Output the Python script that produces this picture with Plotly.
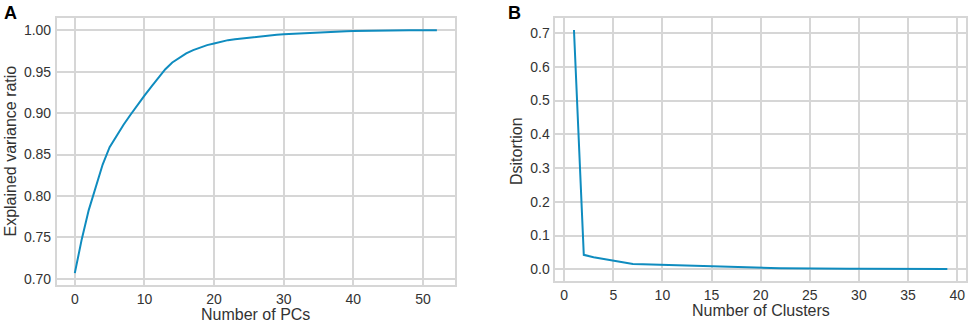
import plotly.graph_objects as go

# Panel A: cumulative explained variance ratio by number of PCs
pcs = list(range(0, 53))
explained_variance = [
    0.707, 0.748, 0.783, 0.812, 0.838, 0.859, 0.873, 0.886, 0.898, 0.910,
    0.921, 0.932, 0.943, 0.953, 0.961, 0.967, 0.972, 0.976, 0.979, 0.982,
    0.984, 0.986, 0.988, 0.989, 0.990, 0.991, 0.992, 0.993, 0.994, 0.9945,
    0.995, 0.9955, 0.996, 0.9965, 0.997, 0.9975, 0.998, 0.9983, 0.9986, 0.9988,
    0.999, 0.9992, 0.9994, 0.9995, 0.9996, 0.9997, 0.9998, 0.9998, 0.9999, 0.9999,
    1.0, 1.0, 1.0,
]

# Panel B: distortion by number of clusters
clusters = list(range(1, 40))
distortion = [
    0.709, 0.043, 0.036, 0.031, 0.026, 0.020, 0.016, 0.015, 0.014, 0.013,
    0.012, 0.011, 0.010, 0.0095, 0.009, 0.008, 0.007, 0.006, 0.0055, 0.005,
    0.004, 0.0035, 0.003, 0.003, 0.0028, 0.0026, 0.0024, 0.0022, 0.002, 0.0019,
    0.0018, 0.0017, 0.0016, 0.0015, 0.0014, 0.0013, 0.0012, 0.0011, 0.001,
]

xticks_a = [0, 10, 20, 30, 40, 50]
yticks_a = [0.70, 0.75, 0.80, 0.85, 0.90, 0.95, 1.00]
xticks_b = [0, 5, 10, 15, 20, 25, 30, 35, 40]
yticks_b = [0.0, 0.1, 0.2, 0.3, 0.4, 0.5, 0.6, 0.7]

LINE = "#0f8cbf"
GRID = "#d6d6d6"
TXT = "#333333"
FONT = "Liberation Sans, Arial, sans-serif"
W, H = 969, 322


def px(v):
    return v / W


def py(v):
    return 1 - v / H


fig = go.Figure()
fig.add_trace(go.Scatter(x=pcs, y=explained_variance, mode="lines",
                         line=dict(color=LINE, width=2), xaxis="x", yaxis="y",
                         showlegend=False))
fig.add_trace(go.Scatter(x=clusters, y=distortion, mode="lines",
                         line=dict(color=LINE, width=2), xaxis="x2", yaxis="y2",
                         showlegend=False))

common = dict(showgrid=True, gridcolor=GRID, gridwidth=1.5, zeroline=False,
              showline=True, linecolor=GRID, linewidth=1.5, mirror=True,
              ticks="", tickfont=dict(size=14, color=TXT, family=FONT))

fig.update_layout(
    width=W, height=H,
    margin=dict(l=0, r=0, t=0, b=0, autoexpand=False),
    paper_bgcolor="white", plot_bgcolor="white",
    font=dict(family=FONT, color=TXT),
    xaxis=dict(domain=[px(56.7), px(455)], range=[-2.6, 54.6], tickvals=xticks_a,
               anchor="y", ticklabelstandoff=0, **common),
    yaxis=dict(domain=[py(285), py(18)], range=[0.6927, 1.0147], tickvals=yticks_a,
               tickformat=".2f", anchor="x", ticklabelstandoff=1, **common),
    xaxis2=dict(domain=[px(555.3), px(966)], range=[-0.9, 40.9], tickvals=xticks_b,
                anchor="y2", ticklabelstandoff=0, **common),
    yaxis2=dict(domain=[py(281), py(18)], range=[-0.0345, 0.7445], tickvals=yticks_b,
                tickformat=".1f", anchor="x2", ticklabelstandoff=1, **common),
    annotations=[
        dict(text="<b>A</b>", x=px(2), y=py(1), xref="paper", yref="paper",
             xanchor="left", yanchor="top", showarrow=False,
             font=dict(size=18, color="#000000", family=FONT)),
        dict(text="<b>B</b>", x=px(506), y=py(1), xref="paper", yref="paper",
             xanchor="left", yanchor="top", showarrow=False,
             font=dict(size=18, color="#000000", family=FONT)),
        dict(text="Number of PCs", x=px(255.9), y=py(314), xref="paper", yref="paper",
             xanchor="center", yanchor="middle", showarrow=False,
             font=dict(size=16, color=TXT, family=FONT)),
        dict(text="Explained variance ratio", x=px(10), y=py(151.5), xref="paper",
             yref="paper", xanchor="center", yanchor="middle", textangle=-90,
             showarrow=False, font=dict(size=16, color=TXT, family=FONT)),
        dict(text="Number of Clusters", x=px(760.7), y=py(310.5), xref="paper",
             yref="paper", xanchor="center", yanchor="middle", showarrow=False,
             font=dict(size=16, color=TXT, family=FONT)),
        dict(text="Dsitortion", x=px(516), y=py(151), xref="paper", yref="paper",
             xanchor="center", yanchor="middle", textangle=-90, showarrow=False,
             font=dict(size=16, color=TXT, family=FONT)),
    ],
)

fig.write_html(
    "out.html",
    config={"displayModeBar": False},
    post_script="document.body.style.margin='0';document.body.style.padding='0';",
)
